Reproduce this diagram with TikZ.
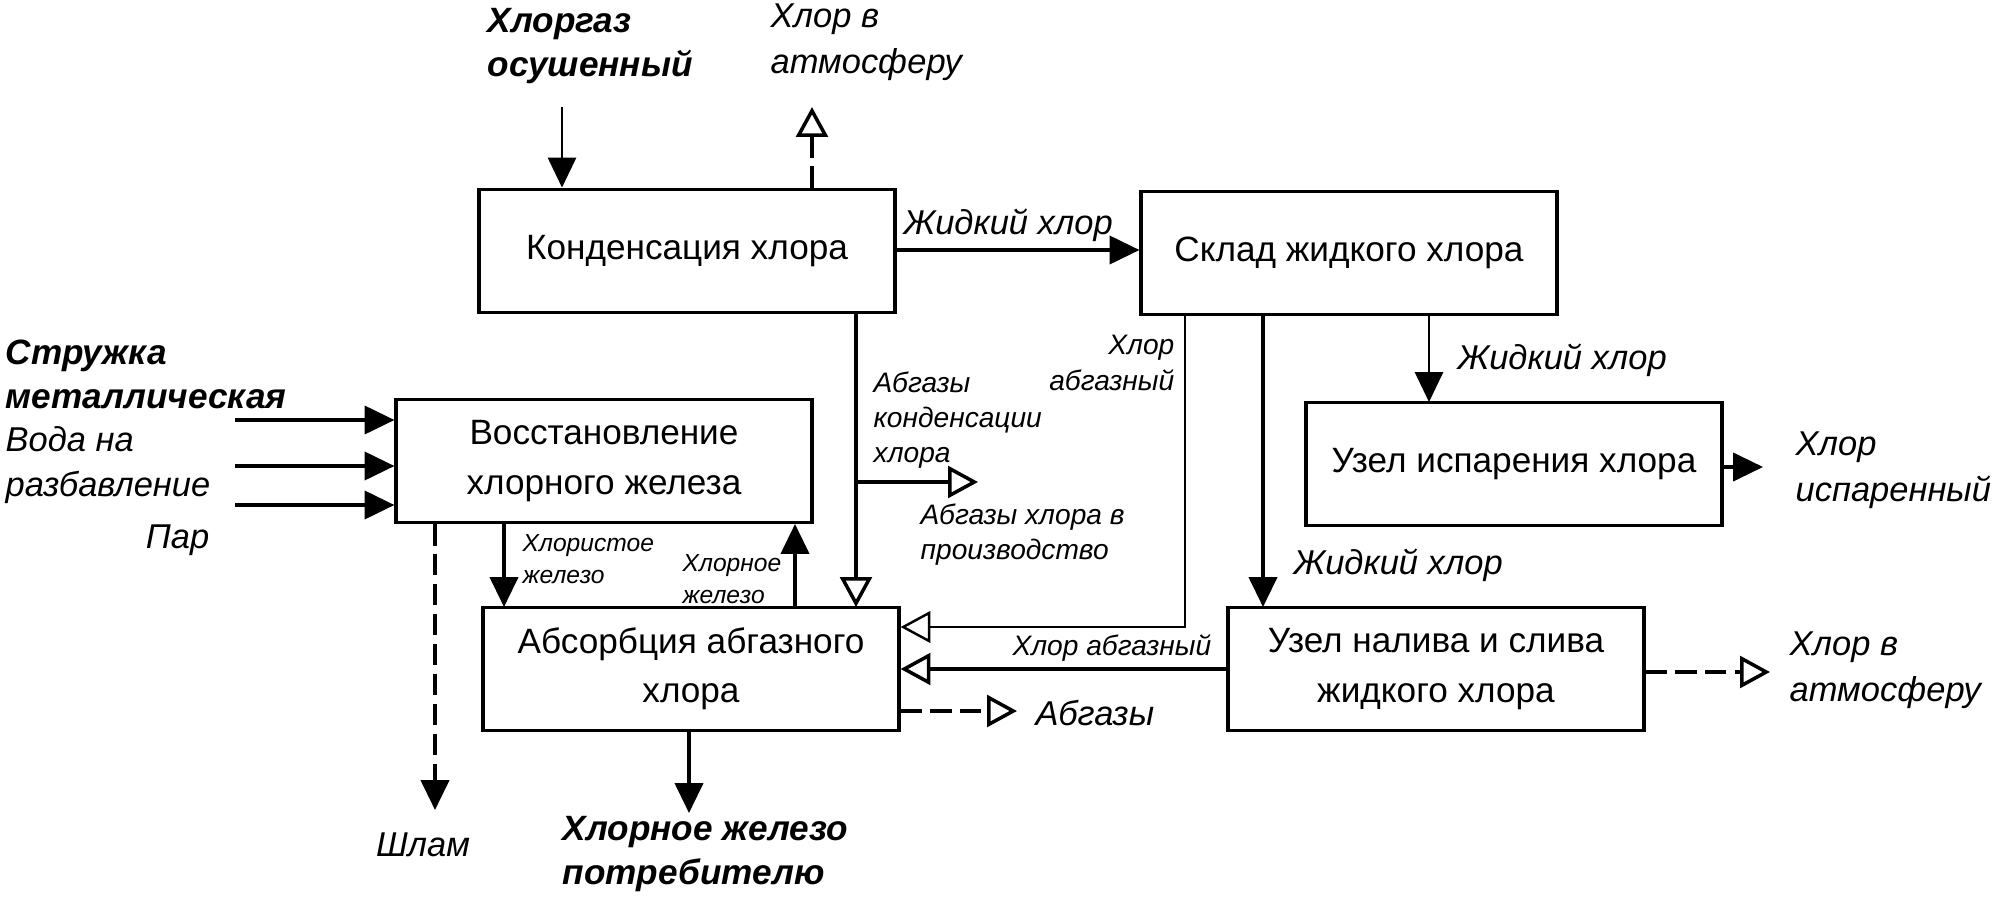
\documentclass[tikz,border=0pt]{standalone}
\usepackage{fontspec}
\setmainfont{Liberation Sans}
\usetikzlibrary{arrows.meta}
\tikzset{%
  unit/.style={rectangle, draw=black, line width=1.1pt, minimum width=4.15cm, minimum height=1.23cm, inner sep=0pt, align=center, font=\fontsize{10}{14}\selectfont},
  % connectors
  flow/.style={line width=1pt, -{Triangle[length=8.5pt,width=8pt]}},
  thinflow/.style={line width=0.7pt, -{Triangle[length=8.5pt,width=8pt]}},
  gasflow/.style={line width=1pt, -{Triangle[open,length=8.5pt,width=9pt]}},
  thingasflow/.style={line width=0.7pt, -{Triangle[open,length=8.5pt,width=9pt]}},
  ventflow/.style={line width=1pt, dash pattern=on 6pt off 2.5pt, -{Triangle[open,length=8.5pt,width=9pt]}},
  sludgeflow/.style={line width=1pt, dash pattern=on 6pt off 2.5pt, -{Triangle[length=8.5pt,width=8pt]}},
  % labels
  bigText/.style={inner sep=0pt, align=left, font=\fontsize{9.8}{13}\selectfont\itshape},
  boldText/.style={inner sep=0pt, align=left, font=\fontsize{10}{12.5}\selectfont\bfseries\itshape},
  midText/.style={inner sep=0pt, align=left, font=\fontsize{8}{10}\selectfont\itshape},
  smallText/.style={inner sep=0pt, align=left, font=\fontsize{7}{9}\selectfont\itshape}}

\begin{document}
\begin{tikzpicture}[x=0.01cm, y=-0.01cm]
    \useasboundingbox (0,0) rectangle (1997,897);

    \node[unit] (cond) at (687,251) {Конденсация хлора};
    \node[unit] (store) at (1349,253) {Склад жидкого хлора};
    \node[unit] (restore) at (604,461) {Восстановление\\хлорного железа};
    \node[unit] (absorb) at (691,669) {Абсорбция абгазного\\хлора};
    \node[unit] (evap) at (1514,464) {Узел испарения хлора};
    \node[unit] (fill) at (1436,669) {Узел налива и слива\\жидкого хлора};

    % free ends
    \coordinate (gasIn) at (562,107);
    \coordinate (condVent) at (812,107);
    \coordinate (toProd) at (978,482);
    \coordinate (evapOut) at (1763,467);
    \coordinate (absorbVent) at (1017,711);
    \coordinate (fillVent) at (1770,672);
    \coordinate (chipsIn) at (235,420);
    \coordinate (waterIn) at (235,466);
    \coordinate (steamIn) at (235,505);
    \coordinate (sludge) at (435,810);
    \coordinate (product) at (689,813);

    \draw[thinflow] (gasIn) -- (gasIn |- cond.north);
    \draw[ventflow] (condVent |- cond.north) -- (condVent);
    \draw[flow] (cond.east |- 0,250) -- (store.west |- 0,250);
    \draw[gasflow] (856,313) -- (856,607);
    \draw[gasflow] (856,482) -- (toProd);
    \draw[thingasflow] (1185,315) |- (absorb.east |- 0,627);
    \draw[flow] (1263,315) -- (1263,607);
    \draw[thinflow] (1429,315) -- (1429,402);
    \draw[flow] (evap.east |- evapOut) -- (evapOut);
    \draw[gasflow] (fill.west) -- (absorb.east |- fill.west);
    \draw[ventflow] (absorb.east |- absorbVent) -- (absorbVent);
    \draw[ventflow] (fill.east |- fillVent) -- (fillVent);
    \draw[flow] (chipsIn) -- (restore.west |- chipsIn);
    \draw[flow] (waterIn) -- (restore.west |- waterIn);
    \draw[flow] (steamIn) -- (restore.west |- steamIn);
    \draw[sludgeflow] (sludge |- restore.south) -- (sludge);
    \draw[flow] (504,524) -- (504,607);
    \draw[flow] (795,607) -- (795,524);
    \draw[flow] (product |- absorb.south) -- (product);

    \node[boldText, anchor=west] (gasLbl) at (487,46) {Хлоргаз\\осушенный};
    \node[bigText, anchor=west] (condVentLbl) at (770,42) {Хлор в\\атмосферу};
    \node[bigText, anchor=west] (liquidLbl) at (903,225) {Жидкий хлор};
    \node[midText, anchor=west] (offgasLbl) at (873,420) {Абгазы\\конденсации\\хлора};
    \node[midText, anchor=west] (toProdLbl) at (920,535) {Абгазы хлора в\\производство};
    \node[midText, anchor=east, align=right] (storeGasLbl) at (1175,363) {Хлор\\абгазный};
    \node[bigText, anchor=west] (liquidLbl2) at (1457,360) {Жидкий хлор};
    \node[bigText, anchor=west] (liquidLbl3) at (1293,565) {Жидкий хлор};
    \node[bigText, anchor=west] (evapLbl) at (1795,470) {Хлор\\испаренный};
    \node[midText, anchor=east] (fillGasLbl) at (1212,648) {Хлор абгазный};
    \node[bigText, anchor=west] (absorbVentLbl) at (1035,713) {Абгазы};
    \node[bigText, anchor=west] (fillVentLbl) at (1789,670) {Хлор в\\атмосферу};
    \node[boldText, anchor=west] (chipsLbl) at (5,374) {Стружка\\металлическая};
    \node[bigText, anchor=west] (waterLbl) at (5,465) {Вода на\\разбавление};
    \node[bigText, anchor=east] (steamLbl) at (210,540) {Пар};
    \node[bigText] (sludgeLbl) at (423,845) {Шлам};
    \node[smallText, anchor=west] (ferrousLbl) at (522,559) {Хлористое\\железо};
    \node[smallText, anchor=west] (ferricLbl) at (682,579) {Хлорное\\железо};
    \node[boldText, anchor=west] (productLbl) at (562,854) {Хлорное железо\\потребителю};
\end{tikzpicture}
\end{document}
